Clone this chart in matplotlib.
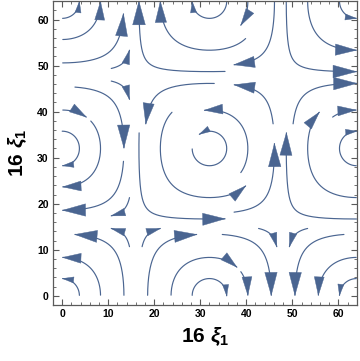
import numpy as np
import matplotlib
matplotlib.use("Agg")
from matplotlib import pyplot as plt
from matplotlib.patches import Polygon
from matplotlib.ticker import MultipleLocator

# cellular (Taylor-Green) flow:
# vortices every 32 units (counter-clockwise at (0,0), (32,32), ...),
# saddles at odd multiples of 16
CELL = 32.0
DOMAIN = [0.0, 64.0]
VIEW = [-2.0, 64.0]
XTICKS = [0, 10, 20, 30, 40, 50, 60]
YTICKS = [0, 10, 20, 30, 40, 50, 60]
XLABEL = r"$16\ \xi_1$"
YLABEL = r"$16\ \xi_1$"
STREAM_COLOR = "#4a6591"

plt.rcParams["mathtext.fontset"] = "custom"
plt.rcParams["mathtext.rm"] = "Liberation Sans:bold"
plt.rcParams["mathtext.it"] = "Liberation Sans:bold:italic"
plt.rcParams["mathtext.bf"] = "Liberation Sans:bold"


def field(x, y):
    k = np.pi / CELL
    u = -np.cos(k * x) * np.sin(k * y)
    v = np.sin(k * x) * np.cos(k * y)
    return u, v


# --- streamlines, Mathematica style: lines stop near other lines,
# arrowhead at the downstream end
NMASK = 12
STEP = 0.15
MAXLEN = 34.0
MINLEN = 2.0
lo, hi = DOMAIN
csize = (hi - lo) / NMASK


def cell_of(p):
    i = int(np.clip((p[0] - lo) / csize, 0, NMASK - 1))
    j = int(np.clip((p[1] - lo) / csize, 0, NMASK - 1))
    return i, j


def direction(p, sign):
    u, v = field(p[0], p[1])
    s = np.hypot(u, v)
    if s < 1e-3:
        return None, s
    return sign * np.array([u, v]) / s, s


def trace(p0, sign, mask, own):
    pts = [np.array(p0, float)]
    cur = cell_of(p0)
    length = 0.0
    while length < MAXLEN / 2:
        p = pts[-1]
        d1, s = direction(p, sign)
        if d1 is None or s < 0.03:
            break
        d2, _ = direction(p + 0.5 * STEP * d1, sign)
        if d2 is None:
            break
        q = p + STEP * d2
        if not (lo <= q[0] <= hi and lo <= q[1] <= hi):
            break
        c = cell_of(q)
        if c != cur:
            if mask[c]:
                break
            mask[c] = True
            own.append(c)
            cur = c
        pts.append(q)
        length += STEP
    return pts, length


mask = np.zeros((NMASK, NMASK), bool)
lines = []
centres = lo + (np.arange(NMASK) + 0.5) * csize
for yc in centres:
    for xc in centres:
        c = cell_of((xc, yc))
        if mask[c]:
            continue
        own = [c]
        mask[c] = True
        fwd, lf = trace((xc, yc), 1, mask, own)
        bwd, lb = trace((xc, yc), -1, mask, own)
        if lf + lb < MINLEN:
            for o in own:
                mask[o] = False
            continue
        pts = np.array(bwd[::-1] + fwd[1:])
        lines.append(pts)

fig = plt.figure(figsize=(3.6, 3.61), dpi=100)
ax = fig.add_axes([0.147, 0.155, 0.844, 0.842])

for pts in lines:
    ax.plot(pts[:, 0], pts[:, 1], color=STREAM_COLOR, lw=0.85,
            solid_capstyle="round")
    tip = pts[-1]
    back = pts[max(0, len(pts) - 6)]
    d = tip - back
    if np.hypot(*d) == 0:
        continue
    d = d / np.hypot(*d)
    _, s = direction(tip, 1)
    alen = 0.9 + 4.2 * s
    n = np.array([-d[1], d[0]])
    base = tip - alen * d
    tri = [tip, base + 0.27 * alen * n, base - 0.27 * alen * n]
    ax.add_patch(Polygon(tri, closed=True, fc=STREAM_COLOR,
                         ec=STREAM_COLOR, lw=0.3))

ax.set_xlim(VIEW)
ax.set_ylim(VIEW)

for side in ax.spines.values():
    side.set_color("#5a5a5a")
    side.set_linewidth(0.9)

ax.set_xticks(XTICKS)
ax.set_yticks(YTICKS)
ax.xaxis.set_minor_locator(MultipleLocator(2))
ax.yaxis.set_minor_locator(MultipleLocator(2))
ax.tick_params(which="both", direction="in", top=True, right=True,
               color="#5a5a5a", labelsize=7.5, pad=3)
ax.tick_params(which="major", length=4, width=0.8)
ax.tick_params(which="minor", length=2, width=0.6)
for lbl in ax.get_xticklabels() + ax.get_yticklabels():
    lbl.set_fontweight("bold")
    lbl.set_family("Liberation Sans")

ax.set_xlabel(XLABEL, fontsize=15, labelpad=4)
ax.set_ylabel(YLABEL, fontsize=15, labelpad=6)

fig.savefig("out.png", dpi=100)
